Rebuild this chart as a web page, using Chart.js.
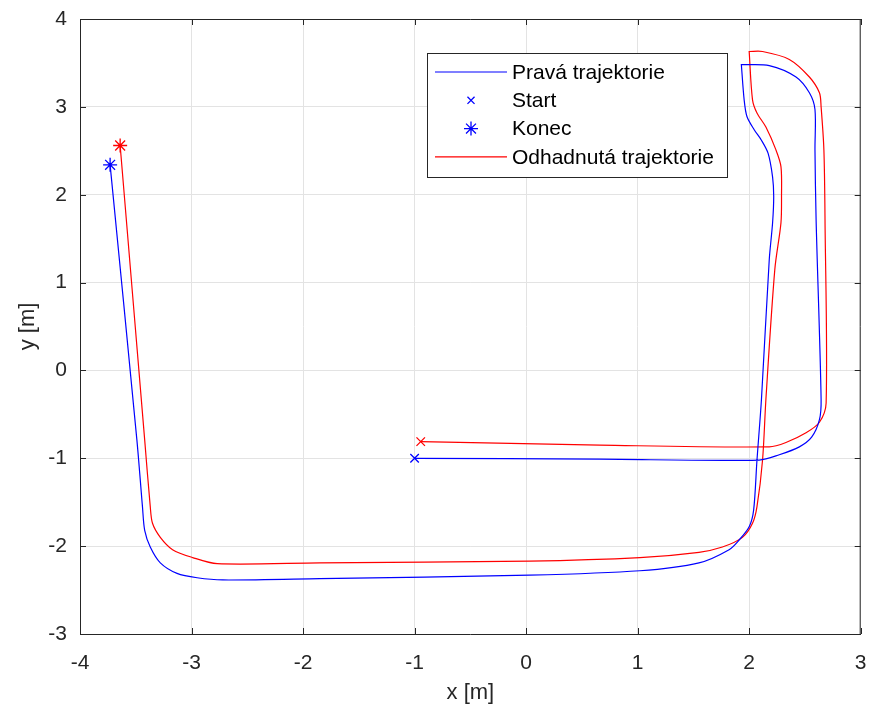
<!DOCTYPE html>
<html>
<head>
<meta charset="utf-8">
<script src="https://cdn.jsdelivr.net/npm/chart.js@4"></script>
<style>
  html, body { margin: 0; padding: 0; background: #fff; }
  #wrap { width: 869px; height: 715px; }
</style>
</head>
<body>
<div id="wrap"><canvas id="trajChart" width="869" height="715"></canvas></div>
<script>
// trajectory, metres
// (the sharp corner at the top is listed twice so the spline keeps it sharp)
const trueX = [-1.0, 0.66, 2.09, 2.27, 2.45, 2.56, 2.63, 2.645, 2.60, 2.59, 2.59, 2.54, 2.42, 2.18, 1.93, 1.93,
  1.955, 1.98, 2.045, 2.11, 2.17, 2.21, 2.22, 2.21, 2.18, 2.11, 2.07, 2.04, 2.0, 1.91, 1.82, 1.55, 1.02,
  0.03, -1.85, -2.72, -2.95, -3.13, -3.28, -3.37, -3.42, -3.44, -3.49, -3.73];
const trueY = [-1.0, -1.01, -1.02, -0.96, -0.87, -0.76, -0.56, -0.33, 1.72, 2.51, 2.97, 3.16, 3.34, 3.47, 3.48, 3.48,
  3.08, 2.89, 2.74, 2.62, 2.47, 2.2, 1.98, 1.68, 1.26, -0.33, -1.02, -1.59, -1.78, -1.93, -2.04, -2.19, -2.28,
  -2.33, -2.37, -2.385, -2.36, -2.31, -2.19, -2.01, -1.82, -1.55, -0.79, 2.34];

const estX = [-0.945, 0.66, 2.18, 2.33, 2.51, 2.63, 2.69, 2.68, 2.67, 2.645, 2.63, 2.54, 2.36, 2.12, 2.0, 2.0,
  2.03, 2.07, 2.15, 2.24, 2.285, 2.29, 2.285, 2.23, 2.15, 2.12, 2.07, 2.03, 1.94, 1.76, 1.55, 1.02,
  0.03, -1.85, -2.77, -2.99, -3.17, -3.28, -3.35, -3.37, -3.42, -3.64];
const estY = [-0.81, -0.85, -0.87, -0.82, -0.71, -0.59, -0.37, 1.72, 2.51, 3.0, 3.16, 3.34, 3.54, 3.63, 3.63, 3.63,
  3.08, 2.93, 2.77, 2.51, 2.32, 1.98, 1.68, 1.15, -0.33, -1.02, -1.55, -1.74, -1.9, -2.01, -2.07, -2.13,
  -2.17, -2.19, -2.2, -2.13, -2.04, -1.9, -1.74, -1.55, -0.79, 2.56];

const xTicks = [-4, -3, -2, -1, 0, 1, 2, 3];
const yTicks = [-3, -2, -1, 0, 1, 2, 3, 4];

const BLUE = '#0000ff';
const RED = '#ff0000';
const AXIS = '#262626';

function pts(xs, ys) {
  return xs.map((x, i) => ({ x: x, y: ys[i] }));
}
function first(xs, ys) { return [{ x: xs[0], y: ys[0] }]; }
function last(xs, ys) { return [{ x: xs[xs.length - 1], y: ys[ys.length - 1] }]; }

const lineDs = (label, data, color) => ({
  label: label, data: data, showLine: true, borderColor: color, borderWidth: 1.2,
  pointRadius: 0, tension: 0.3, fill: false
});
const markDs = (label, data, color, style, r) => ({
  label: label, data: data, showLine: false, borderColor: color, backgroundColor: color,
  pointStyle: style, pointRadius: r, pointBorderWidth: 1.3
});

// matlab-ish legend box inside the axes
const boxLegend = {
  id: 'boxLegend',
  afterDraw(chart) {
    const c = chart.ctx;
    const bx = 427, by = 53, bw = 300, bh = 124;
    c.save();
    c.fillStyle = '#fff';
    c.fillRect(bx, by, bw, bh);
    c.strokeStyle = AXIS;
    c.lineWidth = 1;
    c.strokeRect(bx + 0.5, by + 0.5, bw, bh);
    const rows = [
      { text: 'Pravá trajektorie', kind: 'line', color: BLUE },
      { text: 'Start', kind: 'crossRot', color: BLUE, r: 5 },
      { text: 'Konec', kind: 'star', color: BLUE, r: 7 },
      { text: 'Odhadnutá trajektorie', kind: 'line', color: RED }
    ];
    c.font = '21px "Liberation Sans", Arial, sans-serif';
    c.textBaseline = 'middle';
    rows.forEach((row, i) => {
      const y = 72 + i * 28.3;
      if (row.kind === 'line') {
        c.strokeStyle = row.color;
        c.lineWidth = 1.2;
        c.beginPath();
        c.moveTo(435, y);
        c.lineTo(507, y);
        c.stroke();
      } else {
        c.strokeStyle = row.color;
        c.fillStyle = row.color;
        c.lineWidth = 1.3;
        Chart.helpers.drawPoint(c, { pointStyle: row.kind, radius: row.r, borderWidth: 1.3 }, 471, y);
      }
      c.fillStyle = '#000';
      c.fillText(row.text, 512, y + 1);
    });
    c.restore();
  }
};

// box on top/right and inward ticks
const axisBox = {
  id: 'axisBox',
  afterDatasetsDraw(chart) {
    const { ctx: c, chartArea: a, scales } = chart;
    c.save();
    c.strokeStyle = AXIS;
    c.lineWidth = 1;
    c.beginPath();
    c.moveTo(a.left, a.top + 0.5); c.lineTo(a.right, a.top + 0.5);
    c.moveTo(a.right - 0.5, a.top); c.lineTo(a.right - 0.5, a.bottom);
    xTicks.forEach(v => {
      const px = Math.round(scales.x.getPixelForValue(v)) + 0.5;
      c.moveTo(px, a.bottom); c.lineTo(px, a.bottom - 6);
      c.moveTo(px, a.top); c.lineTo(px, a.top + 6);
    });
    yTicks.forEach(v => {
      const py = Math.round(scales.y.getPixelForValue(v)) + 0.5;
      c.moveTo(a.left, py); c.lineTo(a.left + 6, py);
      c.moveTo(a.right, py); c.lineTo(a.right - 6, py);
    });
    c.stroke();
    c.restore();
  }
};

const tickFont = { family: '"Liberation Sans", Arial, sans-serif', size: 21 };
const titleFont = { family: '"Liberation Sans", Arial, sans-serif', size: 22 };

new Chart(document.getElementById('trajChart'), {
  type: 'scatter',
  data: {
    datasets: [
      lineDs('Pravá trajektorie', pts(trueX, trueY), BLUE),
      markDs('Start', first(trueX, trueY), BLUE, 'crossRot', 6),
      markDs('Konec', last(trueX, trueY), BLUE, 'star', 7),
      lineDs('Odhadnutá trajektorie', pts(estX, estY), RED),
      markDs('Start (odhad)', first(estX, estY), RED, 'crossRot', 6),
      markDs('Konec (odhad)', last(estX, estY), RED, 'star', 7)
    ]
  },
  options: {
    responsive: false,
    animation: false,
    layout: { padding: { top: 19, right: 7, left: 0, bottom: 0 } },
    plugins: {
      legend: { display: false },
      tooltip: { enabled: false }
    },
    scales: {
      x: {
        type: 'linear', min: -4, max: 3,
        afterBuildTicks: s => { s.ticks = xTicks.map(v => ({ value: v })); },
        afterFit: s => { s.height = 81; s.paddingLeft = 0; s.paddingRight = 0; },
        grid: { color: '#e3e3e3', drawTicks: false },
        border: { color: AXIS, width: 1 },
        ticks: { color: AXIS, font: tickFont, padding: 17, maxRotation: 0 },
        title: { display: true, text: 'x [m]', color: AXIS, font: titleFont, padding: { top: 0, bottom: 9 } }
      },
      y: {
        type: 'linear', min: -3, max: 4,
        afterBuildTicks: s => { s.ticks = yTicks.map(v => ({ value: v })); },
        afterFit: s => { s.width = 80; s.paddingTop = 0; s.paddingBottom = 0; },
        grid: { color: '#e3e3e3', drawTicks: false },
        border: { color: AXIS, width: 1 },
        ticks: { color: AXIS, font: tickFont, padding: 13 },
        title: { display: true, text: 'y [m]', color: AXIS, font: titleFont, padding: { top: 15, bottom: 0 } }
      }
    }
  },
  plugins: [axisBox, boxLegend]
});
</script>
</body>
</html>
